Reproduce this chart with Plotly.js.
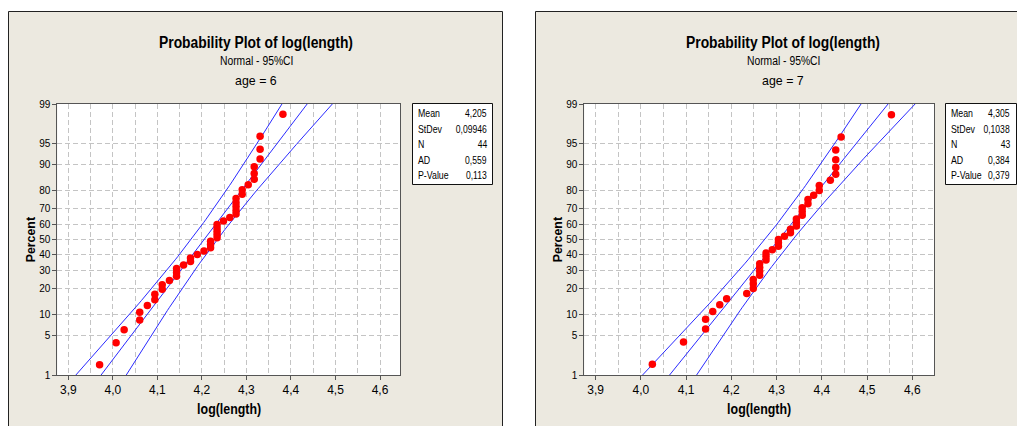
<!DOCTYPE html>
<html><head><meta charset="utf-8">
<script src="https://cdn.plot.ly/plotly-3.0.1.min.js"></script>
<style>html,body{margin:0;padding:0;background:#fff;}#chart{width:1017px;height:426px;}</style>
</head><body><div id="chart"></div>
<script>
// ---- data ----
const age6LogLength = [3.9703, 4.0073, 4.0254, 4.0604, 4.0604, 4.0775, 4.0943, 4.0943, 4.1109, 4.1109,
  4.1271, 4.1431, 4.1431, 4.1431, 4.1589, 4.1744, 4.1744, 4.1897, 4.2047, 4.2195, 4.2195, 4.2195,
  4.2341, 4.2341, 4.2341, 4.2341, 4.2341, 4.2485, 4.2627, 4.2767, 4.2767, 4.2767, 4.2767, 4.2767,
  4.2905, 4.2905, 4.3041, 4.3175, 4.3175, 4.3175, 4.3307, 4.3307, 4.3307, 4.3820];
const age7LogLength = [4.0254, 4.0943, 4.1431, 4.1431, 4.1589, 4.1744, 4.1897, 4.2341, 4.2485, 4.2485,
  4.2485, 4.2627, 4.2627, 4.2627, 4.2627, 4.2767, 4.2767, 4.2767, 4.2905, 4.3041, 4.3041, 4.3041,
  4.3175, 4.3307, 4.3307, 4.3438, 4.3438, 4.3438, 4.3567, 4.3567, 4.3567, 4.3694, 4.3694, 4.3820,
  4.3944, 4.3944, 4.4188, 4.4308, 4.4308, 4.4308, 4.4308, 4.4427, 4.5539];
const groupLabels = ['age = 6', 'age = 7'];
const fitMeans = [4.205, 4.305];
const fitStDevs = [0.09946, 0.1038];
const sampleSizes = [44, 43];
const statLabels = ['Mean', 'StDev', 'N', 'AD', 'P-Value'];
const age6StatText = ['4,205', '0,09946', '44', '0,559', '0,113'];
const age7StatText = ['4,305', '0,1038', '43', '0,384', '0,379'];
const xTickVals = [3.9, 4.0, 4.1, 4.2, 4.3, 4.4, 4.5, 4.6];
const xTickText = ['3,9', '4,0', '4,1', '4,2', '4,3', '4,4', '4,5', '4,6'];
const yTickPercents = [1, 5, 10, 20, 30, 40, 50, 60, 70, 80, 90, 95, 99];
const yTickText = ['1', '5', '10', '20', '30', '40', '50', '60', '70', '80', '90', '95', '99'];
const mainTitle = 'Probability Plot of log(length)';
const subTitle = 'Normal - 95%CI';
const xTitle = 'log(length)';
const yTitle = 'Percent';

// ---- helpers ----
function norminv(p){
  const a=[-3.969683028665376e+01,2.209460984245205e+02,-2.759285104469687e+02,1.383577518672690e+02,-3.066479806614716e+01,2.506628277459239e+00];
  const b=[-5.447609879822406e+01,1.615858368580409e+02,-1.556989798598866e+02,6.680131188771972e+01,-1.328068155288572e+01];
  const c=[-7.784894002430293e-03,-3.223964580411365e-01,-2.400758277161838e+00,-2.549671039476355e+00,4.374664141464968e+00,2.938163982698783e+00];
  const d=[7.784695709041462e-03,3.224671290700398e-01,2.445134137142996e+00,3.754408661907416e+00];
  const pl=0.02425, ph=1-pl; let q, r;
  if(p<pl){q=Math.sqrt(-2*Math.log(p));return (((((c[0]*q+c[1])*q+c[2])*q+c[3])*q+c[4])*q+c[5])/((((d[0]*q+d[1])*q+d[2])*q+d[3])*q+1);}
  if(p>ph){q=Math.sqrt(-2*Math.log(1-p));return -(((((c[0]*q+c[1])*q+c[2])*q+c[3])*q+c[4])*q+c[5])/((((d[0]*q+d[1])*q+d[2])*q+d[3])*q+1);}
  q=p-0.5; r=q*q;
  return (((((a[0]*r+a[1])*r+a[2])*r+a[3])*r+a[4])*r+a[5])*q/(((((b[0]*r+b[1])*r+b[2])*r+b[3])*r+b[4])*r+1);
}
// Minitab median-rank (Benard) plotting positions, on the normal-probability scale
function rankZ(values){
  const n = values.length;
  return values.map((v,i)=>norminv((i+1-0.3)/(n+0.4)));
}
const zTop = norminv(0.99);
// fitted normal line and 95% CI for the percentiles (from the Mean / StDev / N shown)
function fitLines(k){
  const m=fitMeans[k], s=fitStDevs[k], n=sampleSizes[k], z975=1.959964;
  const zs=[], fit=[], lo=[], hi=[];
  for(let i=0;i<=80;i++){
    const z=-zTop + 2*zTop*i/80;
    const x=m+s*z, h=z975*s*Math.sqrt((1+z*z/2)/n);
    zs.push(z); fit.push(x); lo.push(x-h); hi.push(x+h);
  }
  return {zs, fit, lo, hi};
}

const data=[];
[age6LogLength, age7LogLength].forEach((vals,k)=>{
  const xa = k===0?'x':'x2', ya = k===0?'y':'y2';
  const L = fitLines(k);
  [L.lo, L.fit, L.hi].forEach(arr=>{
    data.push({type:'scatter', mode:'lines', x:arr, y:L.zs, xaxis:xa, yaxis:ya,
      line:{color:'#2a2aff', width:1}, hoverinfo:'skip'});
  });
  data.push({type:'scatter', mode:'markers', x:vals, y:rankZ(vals), xaxis:xa, yaxis:ya,
    marker:{color:'#ff0000', size:7.5, line:{width:0}}, cliponaxis:false});
});

// ---- layout ----
const W=1017, H=426;
const PX=v=>v/W, PY=v=>1-v/H;
const fam = '"Liberation Sans", Arial, sans-serif';
const gridCol = '#c4c4c4';
function xAxis(domain, range, anchor){
  return {domain, range, anchor, tickmode:'array', tickvals:xTickVals, ticktext:xTickText,
    ticks:'outside', ticklen:4, tickcolor:'#555', showline:true, linecolor:'#555', linewidth:1, mirror:true,
    showgrid:true, gridcolor:gridCol, griddash:'5px,3px', gridwidth:1, zeroline:false,
    minor:{dtick:0.05, tick0:3.85, showgrid:true, gridcolor:gridCol, griddash:'5px,3px', gridwidth:1, ticks:''},
    tickfont:{family:fam, size:12, color:'#000'}, fixedrange:true};
}
function yAxis(anchor){
  return {domain:[PY(375), PY(104)], range:[-zTop, zTop], anchor, tickmode:'array',
    tickvals:yTickPercents.map(p=>norminv(p/100)), ticktext:yTickText,
    ticks:'outside', ticklen:4, tickcolor:'#555', showline:true, linecolor:'#555', linewidth:1, mirror:true,
    showgrid:true, gridcolor:gridCol, griddash:'5px,3px', gridwidth:1, zeroline:false,
    tickfont:{family:fam, size:10, color:'#000'}, fixedrange:true};
}

const beige = '#ece9e0';
const shapes = [
  {type:'rect', xref:'paper', yref:'paper', x0:PX(8.5), x1:PX(502.5), y0:PY(440), y1:PY(11.5), fillcolor:beige, line:{color:'#222', width:1}, layer:'below'},
  {type:'rect', xref:'paper', yref:'paper', x0:PX(535.5), x1:PX(1040), y0:PY(440), y1:PY(11.5), fillcolor:beige, line:{color:'#222', width:1}, layer:'below'},
  {type:'rect', xref:'paper', yref:'paper', x0:PX(57.3), x1:PX(400), y0:PY(375), y1:PY(104), fillcolor:'#fff', line:{width:0}, layer:'below'},
  {type:'rect', xref:'paper', yref:'paper', x0:PX(584.3), x1:PX(934), y0:PY(375), y1:PY(104), fillcolor:'#fff', line:{width:0}, layer:'below'},
  {type:'rect', xref:'paper', yref:'paper', x0:PX(412.5), x1:PX(492.5), y0:PY(184.5), y1:PY(103.5), fillcolor:'#fff', line:{color:'#111', width:1}, layer:'below'},
  {type:'rect', xref:'paper', yref:'paper', x0:PX(945.5), x1:PX(1016.5), y0:PY(184.5), y1:PY(103.5), fillcolor:'#fff', line:{color:'#111', width:1}, layer:'below'}
];

// annotations; squeeze[] = horizontal condensing applied after render (reference font is condensed)
const annotations=[], squeeze=[];
function ann(x,y,text,font,sq,extra){
  annotations.push(Object.assign({xref:'paper', yref:'paper', x:PX(x), y:PY(y), text, font,
    showarrow:false, xanchor:'center', yanchor:'middle', align:'center', borderpad:0}, extra||{}));
  squeeze.push(sq);
}
const panelCenters=[256, 783];
const plotCenters=[228.6, 759.2];
const yTitleX=[30, 557];
const statLeft=[416.5, 949.5], statRight=[488, 1011];
const statTexts=[age6StatText, age7StatText];
for(let k=0;k<2;k++){
  ann(panelCenters[k], 42.5, '<b>'+mainTitle+'</b>', {family:fam, size:16, color:'#000'}, 0.866);
  ann(panelCenters[k], 61, subTitle, {family:fam, size:12, color:'#000'}, 0.86);
  ann(panelCenters[k], 81, groupLabels[k], {family:fam, size:13, color:'#000'}, 0.95);
  ann(plotCenters[k], 409, '<b>'+xTitle+'</b>', {family:fam, size:14, color:'#000'}, 0.886);
  ann(yTitleX[k], 239.5, '<b>'+yTitle+'</b>', {family:fam, size:13, color:'#000'}, 0.95, {textangle:-90});
  statLabels.forEach((lab,i)=>{
    const yy = 113.3 + i*15.5;
    ann(statLeft[k], yy, lab, {family:fam, size:11, color:'#000'}, 0.8, {xanchor:'left', align:'left'});
    ann(statRight[k], yy, statTexts[k][i], {family:fam, size:11, color:'#000'}, 0.78, {xanchor:'right', align:'right'});
  });
}

const layout = {
  width:W, height:H, margin:{l:0,r:0,t:0,b:0, pad:0}, autosize:false,
  paper_bgcolor:'#ffffff', plot_bgcolor:'rgba(0,0,0,0)', showlegend:false,
  xaxis: xAxis([PX(57.3), PX(400)], [3.8753, 4.6449], 'y'),
  yaxis: yAxis('x'),
  xaxis2: xAxis([PX(584.3), PX(934)], [3.875, 4.648], 'y2'),
  yaxis2: yAxis('x2'),
  shapes, annotations
};
Plotly.newPlot('chart', data, layout, {staticPlot:true, displayModeBar:false}).then(gd=>{
  gd.querySelectorAll('g.annotation').forEach(g=>{
    const i = +g.getAttribute('data-index');
    const t = g.querySelector('text.annotation-text');
    if(!t || !squeeze[i] || squeeze[i]===1) return;
    const w = t.getComputedTextLength();
    t.setAttribute('textLength', (w*squeeze[i]).toFixed(2));
    t.setAttribute('lengthAdjust', 'spacingAndGlyphs');
  });
});
</script>
</body></html>
